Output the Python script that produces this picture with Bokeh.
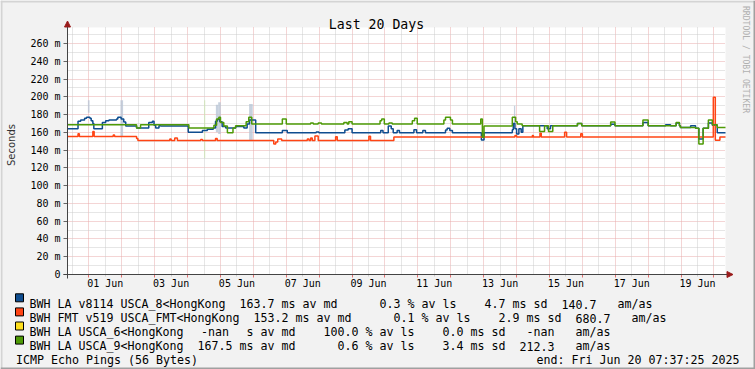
import math
from bokeh.plotting import figure
from bokeh.models import (Range1d, FixedTicker, Grid, Label, Arrow, NormalHead,
                          BoxAnnotation, ColumnDataSource)
from bokeh.embed import file_html
from bokeh.resources import INLINE

# ---------------- data (x = days since 01 Jun 00:00, y = milliseconds) ----------------
blue_t = [-0.65, -0.33, -0.25, -0.13, -0.07, 0.03, 0.07, 0.12, 0.15, 0.41, 0.51, 0.61, 0.84, 0.88,
          0.98, 1.06, 1.12, 1.45, 1.82, 1.93, 1.98, 2.03, 2.13, 2.18, 3.02, 3.45, 3.60, 3.78, 3.85,
          3.90, 3.98, 4.05, 4.16, 4.46, 4.71, 4.81, 4.88, 5.07, 5.88, 6.03, 6.91, 6.99, 7.78, 7.88,
          8.00, 8.87, 8.94, 9.10, 9.19, 9.25, 9.37, 9.44, 9.88, 9.96, 10.15, 10.23, 10.84, 10.89,
          10.97, 11.05, 11.93, 12.01, 12.87, 12.90, 12.95, 13.00, 13.07, 13.14, 13.19, 13.93, 14.03,
          14.85, 14.98, 15.86, 15.99, 16.84, 17.00, 17.53, 17.68, 17.85, 17.95, 17.98, 18.29, 18.44,
          18.54, 18.67, 18.83, 18.95, 19.10, 19.35]
blue_v = [164, 172.5, 174, 176, 177, 176, 173, 170, 164, 171, 173, 174, 175, 177,
          175, 171.5, 167, 165, 171, 172.5, 168, 165, 167.5, 167, 160, 162, 163.5, 165, 172.5,
          174.5, 172, 166.5, 165, 166.5, 165, 169.5, 174, 159.5, 162, 159.5, 160.5, 159.5, 162.5, 164,
          159.5, 162, 159.5, 167, 164, 159.5, 162, 159.5, 163, 159.5, 162, 159.5, 162.5, 164.5,
          162, 159.5, 151.5, 159.5, 163, 170, 164, 158, 164, 160, 167.5, 164, 167.5,
          170, 167.5, 169, 167.5, 171, 167.5, 168.5, 167.5, 170.5, 167.5, 165.5, 167.5, 164.5,
          152.5, 164.5, 170.5, 168, 159.5, 159.5]

red_t = [-0.65, -0.33, -0.29, 0.12, 0.16, 0.74, 0.78, 1.45, 1.49, 2.46, 2.50, 2.61, 2.69, 3.40,
         3.45, 3.85, 3.90, 5.62, 5.68, 5.74, 5.86, 6.64, 6.69, 6.74, 6.79, 6.87, 6.97, 7.50, 7.55,
         8.51, 8.56, 9.27, 12.95, 13.00, 13.48, 13.51, 13.71, 13.75, 14.46, 14.52, 14.95, 15.00,
         18.98, 19.04, 19.18, 19.35]
red_v = [155.3, 158.5, 155.3, 161, 155.3, 157, 155.3, 153, 150.8, 152.5, 150.8, 153.5, 150.8, 152,
         150.8, 153, 150.8, 147, 149, 152.5, 150.8, 152.5, 150.8, 153.5, 150.8, 156, 150.8, 155, 150.8,
         155.5, 150.8, 154.8, 156.5, 154.8, 156.5, 154.8, 159, 154.8, 160, 154.8, 158.3, 154.8,
         199.5, 151, 154.8, 154.8]

green_t = [-0.65, 1.45, 1.57, 3.04, 3.80, 3.88, 3.95, 4.00, 4.10, 4.21, 4.38, 4.46, 4.78, 4.86,
           4.95, 5.88, 6.00, 6.74, 6.82, 6.97, 7.07, 7.75, 7.85, 7.90, 8.00, 8.85, 8.90, 8.98, 9.12,
           9.22, 9.83, 9.90, 9.98, 10.79, 10.84, 10.99, 11.05, 11.91, 11.96, 12.01, 12.87, 12.97,
           13.02, 13.17, 13.70, 13.85, 13.97, 14.10, 14.85, 14.98, 15.86, 15.99, 16.84, 17.00, 17.85,
           17.95, 17.98, 18.44, 18.54, 18.67, 18.83, 18.95, 19.10, 19.35]
green_v = [168.5, 165, 168.5, 165, 168, 175, 177, 171, 167, 159.5, 165, 167.5, 172, 177,
           169.5, 175, 169.5, 170.5, 169.5, 170.5, 169.5, 171, 169.5, 172, 169.5, 173, 175, 169.5, 170.5,
           169.5, 173, 176, 169.5, 174, 177, 174, 169.5, 175, 154.5, 167, 177, 172,
           169.5, 167.5, 161, 167.5, 161, 167.5, 170, 167.5, 171.5, 167.5, 174, 167.5, 171,
           167.5, 165.5, 164.5, 147, 164.5, 174, 168.5, 165.5, 165.5]

# smoke (spread) bars of the first target
smoke_t0 = [-0.03, 0.96, 3.86, 3.93, 4.87, 12.92]
smoke_t1 = [0.02, 1.04, 3.93, 4.01, 4.98, 12.96]
smoke_lo = [182, 156, 160, 158, 151, 170]
smoke_hi = [196, 196, 191, 194, 192, 190]
# faint spread of the fourth target
gsmoke_t0 = [3.505]
gsmoke_t1 = [3.535]
gsmoke_lo = [131]
gsmoke_hi = [196]

x_label_pos = [0.5, 2.5, 4.5, 6.5, 8.5, 10.5, 12.5, 14.5, 16.5, 18.5]
x_labels = ["01 Jun", "03 Jun", "05 Jun", "07 Jun", "09 Jun", "11 Jun", "13 Jun", "15 Jun",
            "17 Jun", "19 Jun"]
y_ticks = [0, 20, 40, 60, 80, 100, 120, 140, 160, 180, 200, 220, 240, 260]
y_tick_labels = ["0", "20 m", "40 m", "60 m", "80 m", "100 m", "120 m", "140 m", "160 m",
                 "180 m", "200 m", "220 m", "240 m", "260 m"]

series_names = ["BWH LA v8114 USCA_8<HongKong", "BWH FMT v519 USCA_FMT<HongKong",
                "BWH LA USCA_6<HongKong", "BWH LA USCA_9<HongKong"]
series_colors = ["#0f4d8f", "#ff4414", "#fedf1d", "#4e9a06"]
legend_rows = [
    [(0, series_names[0]), (30, "163.7 ms av md"), (50, "0.3 % av ls"), (65, "4.7 ms sd"),
     (76, "140.7"), (84, "am/as")],
    [(0, series_names[1]), (32, "153.2 ms av md"), (52, "0.1 % av ls"), (67, "2.9 ms sd"),
     (78, "680.7"), (86, "am/as")],
    [(0, series_names[2]), (24.5, "-nan"), (31, "s av md"), (42, "100.0 % av ls"), (59, "0.0 ms sd"),
     (71, "-nan"), (78, "am/as")],
    [(0, series_names[3]), (24, "167.5 ms av md"), (44, "0.6 % av ls"), (59, "3.4 ms sd"),
     (70, "212.3"), (78, "am/as")],
]

# ---------------- geometry / style ----------------
T0, T1 = -0.65, 19.35          # time span shown (days)
V0, V1 = 0, 278                # value span shown (ms)
FL, FR, FT, FB = 67, 725, 27, 274      # graph canvas in page pixels
W, H = 755, 369

def fx(X):
    return T0 + (X - FL) / (FR - FL) * (T1 - T0)

def fy(Y):
    return V0 + (FB - Y) / (FB - FT) * (V1 - V0)

BACK = "#f2f2f2"
MGRID = "#e9abab"
GRID = "#cccccc"
AXIS = "#444444"
ARROW = "#9a1c1c"
MONO = "DejaVu Sans Mono"

# the frame covers the whole picture; the graph canvas is a sub-area of it
p = figure(width=W, height=H, x_range=Range1d(fx(0), fx(W)), y_range=Range1d(fy(H), fy(0)),
           output_backend="svg", toolbar_location=None, min_border=0,
           background_fill_color=BACK, border_fill_color=BACK)
p.min_border_left = p.min_border_right = p.min_border_top = p.min_border_bottom = 0
p.outline_line_color = None
p.title.visible = False
p.styles = {"position": "absolute", "left": "0px", "top": "0px"}

# white graph canvas (drawn first)
canvas = BoxAnnotation(left=T0, right=T1, bottom=V0, top=V1, fill_color="white", fill_alpha=1,
                       line_color=None, level="underlay")
p.center = [canvas] + list(p.center)

day_lines = list(range(0, 20))
half_day_lines = [d - 0.5 for d in range(0, 20)]
minor_y = [v + 10 for v in y_ticks]

# grids
has_cb = "cross_bounds" in Grid.properties()
grid_specs = [(0, day_lines, MGRID), (1, y_ticks[1:], MGRID),
              (0, half_day_lines, GRID), (1, minor_y, GRID)]
p.xgrid.visible = False
p.ygrid.visible = False
for dim, ticks, col in grid_specs:
    if has_cb:
        g = Grid(dimension=dim, ticker=FixedTicker(ticks=ticks), grid_line_color=col,
                 grid_line_dash="1 1",
                 cross_bounds=(V0, V1) if dim == 0 else (T0, T1))
        p.add_layout(g)
    else:
        n = len(ticks)
        if dim == 0:
            p.segment(x0=ticks, x1=ticks, y0=[V0] * n, y1=[V1] * n, line_color=col,
                      line_dash="1 1", line_width=1, level="underlay")
        else:
            p.segment(x0=[T0] * n, x1=[T1] * n, y0=ticks, y1=ticks, line_color=col,
                      line_dash="1 1", line_width=1, level="underlay")

# axes, fixed inside the frame at the graph canvas edges
xa = p.xaxis[0]
xa.fixed_location = V0
xa.bounds = (T0, T1)
xa.ticker = FixedTicker(ticks=x_label_pos, minor_ticks=day_lines)
xa.major_label_overrides = dict(zip(x_label_pos, x_labels))
xa.axis_line_color = None
xa.major_tick_line_color = GRID
xa.major_tick_out = 2
xa.major_tick_in = 0
xa.minor_tick_line_color = "#e07070"
xa.minor_tick_out = 3
xa.minor_tick_in = 0
xa.major_label_standoff = 0
xa.major_label_text_font = MONO
xa.major_label_text_font_size = "10px"
xa.major_label_text_color = "black"

ya = p.yaxis[0]
ya.fixed_location = T0
ya.bounds = (V0, V1)
ya.ticker = FixedTicker(ticks=y_ticks)
ya.major_label_overrides = dict(zip(y_ticks, y_tick_labels))
ya.axis_line_color = None
ya.major_tick_line_color = "#666666"
ya.major_tick_out = 4
ya.major_tick_in = 0
ya.minor_tick_line_color = None
ya.major_label_standoff = 3
ya.major_label_text_font = MONO
ya.major_label_text_font_size = "10px"
ya.major_label_text_color = "black"

# smoke
p.quad(left=smoke_t0, right=smoke_t1, bottom=smoke_lo, top=smoke_hi,
       fill_color="#b9c5d6", fill_alpha=0.8, line_color=None)
p.quad(left=gsmoke_t0, right=gsmoke_t1, bottom=gsmoke_lo, top=gsmoke_hi,
       fill_color="#cde4b4", fill_alpha=0.9, line_color=None)

# medians
for ts, vs, col in [(blue_t, blue_v, series_colors[0]), (red_t, red_v, series_colors[1]),
                    (green_t, green_v, series_colors[3])]:
    src = ColumnDataSource(dict(t=ts, v=vs))
    p.step(x="t", y="v", source=src, mode="after", line_color=col, line_width=1.5)

# axis lines with arrows
p.add_layout(Arrow(x_start=fx(63), y_start=V0, x_end=fx(732.5), y_end=V0,
                   line_color=AXIS, line_width=1,
                   end=NormalHead(size=6, fill_color=ARROW, line_color=ARROW)))
p.add_layout(Arrow(x_start=T0, y_start=fy(278), x_end=T0, y_end=fy(20.5),
                   line_color=AXIS, line_width=1,
                   end=NormalHead(size=6, fill_color=ARROW, line_color=ARROW)))

# 3-d border of the picture
for l, r, t, b, c in [(0, W, 0, 2, "#d4d4d4"), (0, 2, 0, H, "#d4d4d4"),
                      (W - 2, W, 0, H, "#a0a0a0"), (0, W, H - 2, H, "#a0a0a0")]:
    p.add_layout(BoxAnnotation(left=fx(l), right=fx(r), top=fy(t), bottom=fy(b), fill_color=c,
                               fill_alpha=1, line_color=None))

# texts
p.add_layout(Label(x=fx(376), y=fy(24.3), text="Last 20 Days", text_align="center",
                   text_baseline="alphabetic", text_font=MONO, text_font_size="13.2px",
                   text_color="black"))
p.add_layout(Label(x=fx(11), y=fy(144.5), text="Seconds", angle=math.pi / 2,
                   text_align="center", text_baseline="middle", text_font="DejaVu Sans",
                   text_font_size="10px", text_color="#333333"))
p.add_layout(Label(x=fx(745.7), y=fy(59), text="RRDTOOL / TOBI OETIKER", angle=-math.pi / 2,
                   text_align="center", text_baseline="middle", text_font=MONO,
                   text_font_size="8.1px", text_color="#b0b0b0"))

CH = 7.0
LX = 29.0
for i, row in enumerate(legend_rows):
    base = 303.5 + 14.1 * i
    top = 293.3 + 14.1 * i
    p.add_layout(BoxAnnotation(left=fx(15), right=fx(23), top=fy(top), bottom=fy(top + 8),
                               fill_color=series_colors[i], fill_alpha=1,
                               line_color="black", line_width=1, line_alpha=1))
    for col, txt in row:
        p.add_layout(Label(x=fx(LX + col * CH), y=fy(base), text=txt, text_align="left",
                           text_baseline="alphabetic", text_font=MONO,
                           text_font_size="11.63px", text_color="black"))

p.add_layout(Label(x=fx(15.5), y=fy(359.5), text="ICMP Echo Pings (56 Bytes)", text_align="left",
                   text_baseline="alphabetic", text_font=MONO, text_font_size="11.63px",
                   text_color="black"))
p.add_layout(Label(x=fx(739), y=fy(359.5), text="end: Fri Jun 20 07:37:25 2025",
                   text_align="right", text_baseline="alphabetic", text_font=MONO,
                   text_font_size="11.63px", text_color="black"))

open("out.html", "w").write(file_html(p, INLINE))
